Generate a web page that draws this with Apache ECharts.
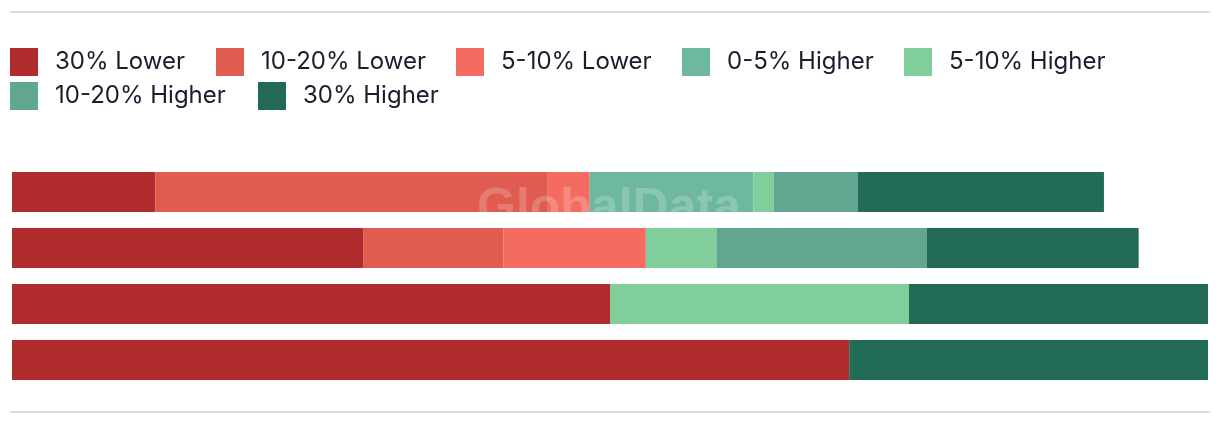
<!DOCTYPE html>
<html>
<head>
<meta charset="utf-8">
<script src="https://cdn.jsdelivr.net/npm/echarts@6/dist/echarts.min.js"></script>
<style>
  html, body { margin: 0; padding: 0; background: #fff; }
  #chart { width: 1220px; height: 426px; }
</style>
</head>
<body>
<div id="chart"></div>
<script>
// categories (labels are not shown in the chart)
const categories = ['Group 1', 'Group 2', 'Group 3', 'Group 4']

// series names (legend order)
const seriesNames = ['30% Lower', '10-20% Lower', '5-10% Lower', '0-5% Higher', '5-10% Higher', '10-20% Higher', '30% Higher']

// values per series, one per category (share, %)
const lower30 = [12.0, 29.4, 50.0, 70.0]
const lower10to20 = [32.8, 11.7, 0, 0]
const lower5to10 = [3.5, 11.9, 0, 0]
const higher0to5 = [13.7, 0, 0, 0]
const higher5to10 = [1.7, 5.9, 25.0, 0]
const higher10to20 = [7.0, 17.6, 0, 0]
const higher30 = [20.6, 17.7, 25.0, 30.0]

const seriesValues = [lower30, lower10to20, lower5to10, higher0to5, higher5to10, higher10to20, higher30]
const colors = ['#b02c2e', '#e05b50', '#f46c61', '#6fb8a0', '#80ce9c', '#60a690', '#226b57']

// legend item positions (square top-left)
const legendPos = [[10, 48], [216, 48], [456, 48], [682, 48], [904, 48], [10, 82], [258, 82]]

const chart = echarts.init(document.getElementById('chart'))

const option = {
  animation: false,
  color: colors,
  legend: seriesNames.map((name, i) => ({
    data: [name],
    left: legendPos[i][0],
    top: legendPos[i][1],
    padding: 0,
    icon: 'rect',
    itemWidth: 28,
    itemHeight: 28,
    selectedMode: false,
    textStyle: {
      fontFamily: 'Inter',
      fontSize: 24,
      color: '#1c1c2e',
      padding: [2, 0, 0, 12]
    }
  })),
  grid: { left: 12, right: 12, top: 164, bottom: 38 },
  xAxis: {
    type: 'value',
    min: 0,
    max: 100,
    show: false
  },
  yAxis: {
    type: 'category',
    data: categories,
    inverse: true,
    show: false
  },
  graphic: [
    {
      type: 'line', silent: true,
      shape: { x1: 10, y1: 12, x2: 1210, y2: 12 },
      style: { stroke: '#dcdcdc', lineWidth: 2 }
    },
    {
      type: 'line', silent: true,
      shape: { x1: 10, y1: 412, x2: 1210, y2: 412 },
      style: { stroke: '#dcdcdc', lineWidth: 2 }
    },
    {
      type: 'text', silent: true, z: 100,
      left: 477, top: 184,
      style: {
        text: 'GlobalData',
        font: 'bold 50px "Liberation Sans"',
        fill: 'rgba(255,255,255,0.2)'
      }
    }
  ],
  series: seriesNames.map((name, i) => ({
    name: name,
    type: 'bar',
    stack: 'total',
    barWidth: 40,
    data: seriesValues[i],
    itemStyle: { color: colors[i] }
  }))
}

chart.setOption(option)
</script>
</body>
</html>
